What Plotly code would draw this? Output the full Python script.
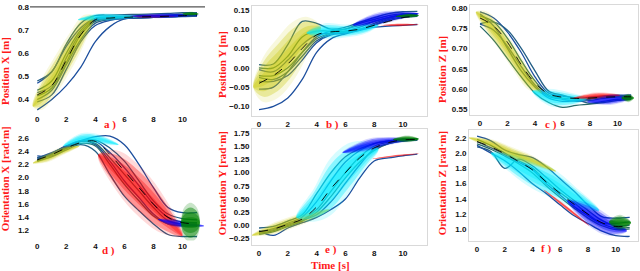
import plotly.graph_objects as go

T = [0, 1, 2, 3, 4, 5, 6, 7, 8, 9, 10, 11]
X_TICKS = [0, 2, 4, 6, 8, 10]

# ---------------- Panel a: Position X ----------------
A_TRAJ = [
    [0.355, 0.40, 0.46, 0.54, 0.65, 0.715, 0.748, 0.752, 0.755, 0.757, 0.758, 0.76],
    [0.48, 0.52, 0.64, 0.73, 0.762, 0.765, 0.767, 0.768, 0.77, 0.772, 0.775, 0.775],
    [0.47, 0.52, 0.63, 0.71, 0.752, 0.757, 0.76, 0.762, 0.764, 0.766, 0.768, 0.77],
    [0.44, 0.48, 0.60, 0.70, 0.748, 0.753, 0.756, 0.758, 0.76, 0.762, 0.765, 0.77],
    [0.43, 0.46, 0.58, 0.69, 0.742, 0.75, 0.753, 0.755, 0.758, 0.76, 0.762, 0.765],
    [0.415, 0.45, 0.56, 0.68, 0.738, 0.748, 0.752, 0.755, 0.757, 0.76, 0.762, 0.765],
    [0.40, 0.44, 0.55, 0.66, 0.73, 0.745, 0.75, 0.753, 0.755, 0.757, 0.76, 0.762],
    [0.39, 0.42, 0.53, 0.65, 0.72, 0.742, 0.75, 0.753, 0.755, 0.757, 0.76, 0.762],
]
A_MEAN = [0.42, 0.46, 0.57, 0.68, 0.745, 0.752, 0.755, 0.757, 0.758, 0.76, 0.762, 0.765]
A_BANDS = [
    ("yellow", [-0.3, 0.3, 1.2, 2.2, 3.2, 3.9], [0.37, 0.42, 0.50, 0.60, 0.70, 0.76], [0, 0.05, 0.065, 0.065, 0.05, 0]),
    ("cyan", [2.8, 4, 5.5, 7], [0.745, 0.755, 0.757, 0.758], [0, 0.012, 0.01, 0]),
    ("red", [6.5, 8, 9.5], [0.758, 0.76, 0.76], [0, 0.006, 0]),
    ("blue", [6.4, 8.5, 11.1], [0.76, 0.762, 0.765], [0, 0.008, 0]),
    ("green", [10.0, 10.6, 11.1], [0.77, 0.77, 0.77], [0, 0.007, 0]),
]
A_YTICKS = [0.4, 0.5, 0.6, 0.7, 0.8]

# ---------------- Panel b: Position Y ----------------
B_TRAJ = [
    [-0.108, -0.10, -0.078, -0.03, 0.04, 0.075, 0.088, 0.097, 0.105, 0.108, 0.11, 0.112],
    [0.008, 0.01, 0.06, 0.12, 0.115, 0.10, 0.105, 0.118, 0.13, 0.14, 0.145, 0.146],
    [-0.055, -0.05, -0.01, 0.04, 0.08, 0.095, 0.10, 0.11, 0.12, 0.13, 0.135, 0.136],
    [0.0, 0.0, 0.03, 0.08, 0.095, 0.095, 0.10, 0.115, 0.125, 0.135, 0.14, 0.14],
    [-0.005, -0.01, 0.02, 0.06, 0.085, 0.09, 0.095, 0.105, 0.12, 0.13, 0.138, 0.14],
    [-0.02, -0.02, 0.0, 0.04, 0.075, 0.09, 0.095, 0.10, 0.115, 0.128, 0.135, 0.138],
    [-0.025, -0.03, -0.01, 0.03, 0.07, 0.088, 0.092, 0.10, 0.112, 0.125, 0.132, 0.135],
    [-0.035, -0.035, -0.02, 0.02, 0.065, 0.085, 0.09, 0.098, 0.11, 0.122, 0.13, 0.133],
]
B_MEAN = [-0.04, -0.02, 0.01, 0.05, 0.085, 0.093, 0.095, 0.10, 0.11, 0.12, 0.13, 0.133]
B_BANDS = [
    ("yellow", [-0.4, 0.3, 1.3, 2.3, 3.3, 4.3], [-0.05, -0.03, 0.0, 0.04, 0.08, 0.105], [0, 0.045, 0.06, 0.06, 0.04, 0]),
    ("cyan", [3.3, 4.5, 6, 7.5, 8.3], [0.09, 0.095, 0.095, 0.103, 0.11], [0, 0.015, 0.013, 0.01, 0]),
    ("blue", [6.5, 8, 9.5, 11.1], [0.11, 0.125, 0.135, 0.14], [0, 0.012, 0.01, 0]),
    ("red", [8.5, 9.8, 11.1], [0.11, 0.111, 0.112], [0, 0.003, 0]),
    ("green", [9.5, 10.5, 11.1], [0.133, 0.135, 0.135], [0, 0.004, 0]),
]
B_YTICKS = [-0.10, -0.05, 0.0, 0.05, 0.10, 0.15]

# ---------------- Panel c: Position Z ----------------
C_TRAJ = [
    [0.79, 0.775, 0.74, 0.69, 0.63, 0.59, 0.583, 0.578, 0.58, 0.583, 0.585, 0.585],
    [0.761, 0.765, 0.745, 0.70, 0.645, 0.595, 0.585, 0.575, 0.565, 0.57, 0.575, 0.578],
    [0.785, 0.755, 0.70, 0.645, 0.605, 0.578, 0.57, 0.572, 0.575, 0.58, 0.583, 0.585],
    [0.755, 0.72, 0.675, 0.63, 0.59, 0.567, 0.555, 0.56, 0.563, 0.567, 0.572, 0.575],
    [0.76, 0.745, 0.705, 0.655, 0.61, 0.582, 0.575, 0.57, 0.572, 0.577, 0.58, 0.58],
    [0.78, 0.765, 0.725, 0.67, 0.62, 0.585, 0.578, 0.575, 0.577, 0.58, 0.582, 0.583],
]
C_MEAN = [0.775, 0.755, 0.715, 0.66, 0.615, 0.588, 0.58, 0.577, 0.578, 0.58, 0.581, 0.581]
C_BANDS = [
    ("yellow", [-0.3, 0.5, 1.5, 2.5, 3.5, 4.5], [0.79, 0.765, 0.725, 0.675, 0.625, 0.59], [0, 0.02, 0.025, 0.025, 0.02, 0]),
    ("cyan", [3.8, 5, 6.5, 7.8], [0.595, 0.58, 0.575, 0.577], [0, 0.016, 0.013, 0]),
    ("red", [6.8, 8.5, 10.2], [0.578, 0.583, 0.585], [0, 0.007, 0]),
    ("blue", [7.8, 9.5, 11.1], [0.568, 0.574, 0.578], [0, 0.01, 0]),
    ("green", [10.3, 10.8, 11.2], [0.578, 0.578, 0.578], [0, 0.008, 0]),
]
C_YTICKS = [0.55, 0.60, 0.65, 0.70, 0.75, 0.80]

# ---------------- Panel d: Orientation X ----------------
D_TRAJ = [
    [2.3, 2.38, 2.48, 2.56, 2.62, 2.63, 2.5, 2.2, 1.85, 1.55, 1.47, 1.47],
    [2.25, 2.32, 2.42, 2.5, 2.4, 2.05, 1.72, 1.5, 1.3, 1.14, 1.11, 1.11],
    [2.33, 2.33, 2.45, 2.55, 2.5, 2.25, 1.95, 1.7, 1.45, 1.3, 1.28, 1.28],
    [2.27, 2.36, 2.47, 2.55, 2.52, 2.3, 2.05, 1.8, 1.55, 1.35, 1.3, 1.3],
    [2.28, 2.37, 2.48, 2.56, 2.55, 2.38, 2.15, 1.88, 1.6, 1.4, 1.33, 1.32],
    [2.25, 2.35, 2.44, 2.52, 2.48, 2.2, 1.9, 1.65, 1.42, 1.3, 1.27, 1.27],
    [2.3, 2.36, 2.46, 2.55, 2.57, 2.45, 2.25, 1.95, 1.65, 1.45, 1.38, 1.36],
]
D_MEAN = [2.27, 2.35, 2.45, 2.53, 2.55, 2.35, 2.1, 1.85, 1.6, 1.4, 1.32, 1.3]
D_BANDS = [
    ("yellow", [-0.3, 0.7, 1.7, 2.9], [2.22, 2.3, 2.4, 2.48], [0, 0.05, 0.05, 0]),
    ("cyan", [1.8, 3, 4.2, 5.6], [2.48, 2.58, 2.58, 2.5], [0, 0.07, 0.06, 0]),
    ("red", [4.2, 5.5, 7, 8.5, 10.0], [2.35, 2.1, 1.8, 1.48, 1.12], [0, 0.24, 0.3, 0.24, 0]),
    ("blue", [8.3, 9.5, 11.5], [1.37, 1.31, 1.27], [0, 0.045, 0]),
    ("green", [9.9, 10.1, 10.55, 11.0, 11.2], [1.32, 1.32, 1.32, 1.32, 1.32], [0, 0.17, 0.23, 0.17, 0]),
]
D_YTICKS = [1.2, 1.4, 1.6, 1.8, 2.0, 2.2, 2.4, 2.6]

# ---------------- Panel e: Orientation Y ----------------
E_TRAJ = [
    [-0.1, -0.19, -0.05, 0.05, 0.15, 0.3, 0.5, 0.9, 1.22, 1.28, 1.32, 1.35],
    [-0.05, -0.02, 0.08, 0.2, 0.6, 1.0, 1.3, 1.45, 1.55, 1.6, 1.63, 1.64],
    [-0.12, -0.06, 0.04, 0.16, 0.45, 0.85, 1.2, 1.42, 1.55, 1.6, 1.63, 1.64],
    [-0.15, -0.1, 0.0, 0.1, 0.3, 0.65, 1.0, 1.3, 1.5, 1.58, 1.62, 1.63],
    [-0.13, -0.08, 0.02, 0.1, 0.2, 0.45, 0.8, 1.15, 1.45, 1.55, 1.6, 1.61],
    [-0.17, -0.12, -0.02, 0.08, 0.25, 0.55, 0.9, 1.2, 1.42, 1.55, 1.6, 1.62],
]
E_MEAN = [-0.12, -0.07, 0.02, 0.12, 0.35, 0.7, 1.0, 1.28, 1.47, 1.57, 1.62, 1.63]
E_BANDS = [
    ("yellow", [-0.5, 0.8, 2.2, 3.5, 4.9], [-0.19, -0.08, 0.05, 0.17, 0.3], [0, 0.08, 0.09, 0.08, 0]),
    ("cyan", [2.6, 3.8, 5, 6.3, 7.5, 8.3], [0.15, 0.38, 0.74, 1.1, 1.35, 1.45], [0, 0.24, 0.42, 0.36, 0.18, 0]),
    ("blue", [5.8, 7.5, 9, 10.8], [1.38, 1.52, 1.6, 1.63], [0, 0.09, 0.06, 0]),
    ("green", [9.3, 10.3, 11.1], [1.63, 1.64, 1.64], [0, 0.05, 0]),
    ("red", [7.9, 9.5, 11.1], [1.26, 1.32, 1.36], [0, 0.012, 0]),
]
E_YTICKS = [-0.25, 0.0, 0.25, 0.5, 0.75, 1.0, 1.25, 1.5, 1.75]

# ---------------- Panel f: Orientation Z ----------------
F_TRAJ = [
    [2.22, 2.16, 2.04, 1.98, 1.94, 1.82, 1.66, 1.5, 1.32, 1.17, 1.15, 1.16],
    [2.08, 2.02, 1.8, 1.92, 1.83, 1.68, 1.52, 1.38, 1.25, 1.12, 1.05, 1.06],
    [2.1, 2.0, 1.9, 1.76, 1.6, 1.47, 1.32, 1.18, 1.08, 0.98, 0.92, 0.91],
    [2.18, 2.1, 2.0, 1.9, 1.8, 1.63, 1.48, 1.35, 1.2, 1.08, 1.02, 1.03],
    [2.15, 2.07, 1.98, 1.88, 1.78, 1.6, 1.45, 1.3, 1.18, 1.08, 1.08, 1.1],
    [2.12, 2.05, 1.96, 1.86, 1.74, 1.57, 1.42, 1.28, 1.15, 1.05, 1.0, 1.01],
]
F_MEAN = [2.15, 2.08, 1.99, 1.89, 1.78, 1.62, 1.47, 1.33, 1.2, 1.09, 1.04, 1.05]
F_BANDS = [
    ("cyan", [1, 2.5, 4, 5.5, 7, 8.8], [2.0, 1.87, 1.73, 1.6, 1.43, 1.25], [0, 0.11, 0.15, 0.15, 0.11, 0]),
    ("yellow", [-0.6, 1, 2.5, 4, 5.7], [2.2, 2.12, 2.0, 1.9, 1.76], [0, 0.05, 0.06, 0.05, 0]),
    ("red", [4.8, 6.5, 8.1], [1.52, 1.28, 1.05], [0, 0.02, 0]),
    ("blue", [6.5, 8, 9.5, 10.8], [1.38, 1.2, 1.05, 0.98], [0, 0.11, 0.1, 0]),
    ("green", [9.5, 10.3, 11.1], [1.1, 1.09, 1.09], [0, 0.08, 0]),
]
F_YTICKS = [1.0, 1.2, 1.4, 1.6, 1.8, 2.0, 2.2]

PANELS = [
    dict(traj=A_TRAJ, mean=A_MEAN, bands=A_BANDS, yticks=A_YTICKS, fmt=".1f", title="Position X [m]", label="a )"),
    dict(traj=B_TRAJ, mean=B_MEAN, bands=B_BANDS, yticks=B_YTICKS, fmt=".2f", title="Position Y [m]", label="b )"),
    dict(traj=C_TRAJ, mean=C_MEAN, bands=C_BANDS, yticks=C_YTICKS, fmt=".2f", title="Position Z [m]", label="c )"),
    dict(traj=D_TRAJ, mean=D_MEAN, bands=D_BANDS, yticks=D_YTICKS, fmt=".1f", title="Orientation X [rad·m]", label="d )"),
    dict(traj=E_TRAJ, mean=E_MEAN, bands=E_BANDS, yticks=E_YTICKS, fmt=".2f", title="Orientation Y [rad·m]", label="e )"),
    dict(traj=F_TRAJ, mean=F_MEAN, bands=F_BANDS, yticks=F_YTICKS, fmt=".1f", title="Orientation Z [rad·m]", label="f )"),
]

# ---------------- layout geometry (pixels) ----------------
W, H = 640, 271
BOX = [  # x0, x1, y0(top), y1(bottom)
    (30, 205, 3, 111), (252, 427, 2, 114), (470, 638, 1, 113),
    (30, 205, 128, 240), (252, 427, 127, 245), (469, 638, 128, 241),
]
XRANGE = [(-0.5, 11.55), (-0.49, 11.67), (-0.73, 11.5), (-0.5, 11.55), (-0.49, 11.67), (-0.58, 11.6)]
YRANGE = [(0.34, 0.80), (-0.1255, 0.160), (0.5354, 0.807), (1.05, 2.72), (-0.38, 1.825), (0.845, 2.30)]
FRAMED = [False, True, True, False, True, True]
TITLE_X = [5, 222, 442, 5, 222, 442]
TITLE_Y = [68, 62, 67, 178, 182, 182]
LABEL_POS = [(110, 122), (332, 122), (551, 122), (108, 250), (331, 249), (546, 248)]

BAND_RGB = {
    "yellow": (200, 200, 0, 0.30),
    "cyan": (0, 235, 255, 0.36),
    "red": (255, 0, 0, 0.32),
    "blue": (0, 0, 255, 0.36),
    "green": (0, 130, 0, 0.48),
}
LAYERS = [(1.3, 0.45), (1.0, 1.0), (0.68, 1.0), (0.36, 1.0)]
LINE_COLORS = ["#1d4f9e", "#245f86", "#1d4f9e", "#2a6a6a", "#1d4f9e", "#2a6a6a", "#245f86", "#1d4f9e"]

fig = go.Figure()
layout = dict(width=W, height=H, margin=dict(l=0, r=0, t=0, b=0),
              paper_bgcolor="white", plot_bgcolor="white", showlegend=False)
annotations = []
shapes = []
tick_font = dict(family="Liberation Sans, Arial, sans-serif", size=8, color="#111", weight="bold")
red_font = dict(family="Liberation Serif, Times New Roman, serif", size=11, color="#ff1a1a", weight="bold")

for i, p in enumerate(PANELS):
    k = "" if i == 0 else str(i + 1)
    xa, ya = "x" + k, "y" + k
    x0, x1, y0, y1 = BOX[i]
    for j, tr in enumerate(p["traj"]):
        fig.add_trace(go.Scatter(x=T, y=tr, mode="lines", xaxis=xa, yaxis=ya,
                                 line=dict(color=LINE_COLORS[j % len(LINE_COLORS)], width=1.3, shape="spline"),
                                 hoverinfo="skip"))
    for name, bt, bc, bh in p["bands"]:
        r, g, b, a = BAND_RGB[name]
        for s, af in LAYERS:
            up_x = list(bt)
            up_y = [c + h * s for c, h in zip(bc, bh)]
            lo_x = list(bt[-2:0:-1])
            lo_y = [c - h * s for c, h in zip(bc[-2:0:-1], bh[-2:0:-1])]
            fig.add_trace(go.Scatter(x=up_x + lo_x + [bt[0]], y=up_y + lo_y + [bc[0]],
                                     mode="lines", fill="toself", xaxis=xa, yaxis=ya,
                                     fillcolor=f"rgba({r},{g},{b},{a * af:.3f})",
                                     line=dict(width=0, shape="spline", smoothing=1.0),
                                     hoverinfo="skip"))
    fig.add_trace(go.Scatter(x=T, y=p["mean"], mode="lines", xaxis=xa, yaxis=ya,
                             line=dict(color="black", width=0.9, dash="dash", shape="spline"),
                             hoverinfo="skip"))
    framed = FRAMED[i]
    layout["xaxis" + k] = dict(domain=[x0 / W, x1 / W], range=list(XRANGE[i]), anchor=ya,
                               tickvals=X_TICKS, ticks="", showgrid=False, zeroline=False,
                               showline=framed, linecolor="#d9d9d9", linewidth=1, mirror=framed,
                               tickfont=tick_font, ticklabeloverflow="allow")
    layout["yaxis" + k] = dict(domain=[1 - y1 / H, 1 - y0 / H], range=list(YRANGE[i]), anchor=xa,
                               tickvals=p["yticks"], tickformat=p["fmt"], ticks="", showgrid=False,
                               zeroline=False, showline=framed, linecolor="#d9d9d9", linewidth=1,
                               mirror=framed, tickfont=tick_font, ticklabeloverflow="allow")
    annotations.append(dict(text=p["title"], x=TITLE_X[i] / W, y=1 - TITLE_Y[i] / H, xref="paper", yref="paper",
                            textangle=-90, showarrow=False, font=red_font, xanchor="center", yanchor="middle"))
    lx, ly = LABEL_POS[i]
    annotations.append(dict(text=p["label"], x=lx / W, y=1 - ly / H, xref="paper", yref="paper",
                            showarrow=False, font=red_font, xanchor="center", yanchor="middle"))

shapes.append(dict(type="line", xref="paper", yref="paper", x0=30 / W, x1=205 / W,
                   y0=1 - 3 / H, y1=1 - 3 / H, line=dict(color="#555555", width=1.2)))

annotations.append(dict(text="Time [s]", x=330 / W, y=1 - 265 / H, xref="paper", yref="paper",
                        showarrow=False, font=red_font, xanchor="center", yanchor="middle"))

layout["annotations"] = annotations
layout["shapes"] = shapes
fig.update_layout(**layout)
fig.write_html("out.html", config={"displayModeBar": False},
               post_script="document.body.style.margin='0';document.body.style.padding='0';document.body.style.overflow='hidden';")
